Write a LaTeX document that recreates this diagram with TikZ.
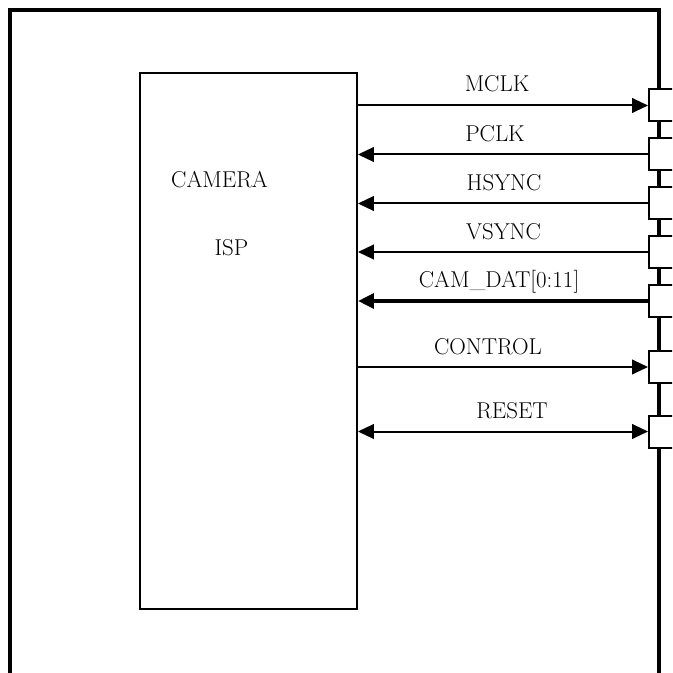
\documentclass[tikz,border=0pt]{standalone}
\usepackage{tikz}
\usetikzlibrary{arrows.meta,positioning}
\newcommand{\sigfont}{\fontsize{17.2}{20}\selectfont}
\tikzset{
  frame/.style={line width=3pt, draw=black, line join=miter},
  chip/.style={draw=black, line width=1.4pt, inner sep=0pt, minimum width=162.75pt, minimum height=402pt},
  pinbox/.style={draw=black, fill=white, line width=1.5pt, inner sep=0pt, minimum width=30pt, minimum height=24pt, anchor=west},
  sig/.style={font=\sigfont, anchor=base, inner sep=0pt},
  wire/.style={line width=1.5pt, -{Triangle[length=12pt,width=11pt]}},
  bus/.style={line width=3pt, -{Triangle[length=12pt,width=11pt]}},
  biwire/.style={line width=1.5pt, {Triangle[length=12pt,width=11pt]}-{Triangle[length=12pt,width=11pt]}}
}
\begin{document}
\begin{tikzpicture}[x=0.75pt, y=-0.75pt]
  \useasboundingbox (0,0) rectangle (672,673);
  \clip (0,0) rectangle (672,673);
  % outer board, open at the bottom
  \draw[frame] (10,690) -- (10,10) -- (659,10) -- (659,690);
  % the ISP block
  \node[chip] (isp) at (248.5,341) {};
  \node[sig] (cam) at (219.5,188) {CAMERA};
  \node[sig] (ispt) at (231.5,255) {ISP};
  % connector pins on the board edge
  \node[pinbox] (mclk) at (648,105.5) {};
  \node[pinbox] (pclk) at (648,154.5) {};
  \node[pinbox] (hsync) at (648,203.5) {};
  \node[pinbox] (vsync) at (648,252) {};
  \node[pinbox] (camdat) at (648,301) {};
  \node[pinbox] (ctrl) at (648,367) {};
  \node[pinbox] (rst) at (648,431.5) {};
  % signal names
  \node[sig] (lmclk) at (497,92) {MCLK};
  \node[sig] (lpclk) at (495,141.5) {PCLK};
  \node[sig] (lhsync) at (504,190.5) {HSYNC};
  \node[sig] (lvsync) at (503.5,239) {VSYNC};
  \node[sig] (lcamdat) at (499,287.5) {CAM\_DAT[0:11]};
  \node[sig] (lctrl) at (488,354) {CONTROL};
  \node[sig] (lrst) at (512,418.5) {RESET};
  % signals
  \draw[wire] (isp.east |- mclk.west) -- (mclk.west);
  \draw[wire] (pclk.west) -- (isp.east |- pclk.west);
  \draw[wire] (hsync.west) -- (isp.east |- hsync.west);
  \draw[wire] (vsync.west) -- (isp.east |- vsync.west);
  \draw[bus] (camdat.west) -- (isp.east |- camdat.west);
  \draw[wire] (isp.east |- ctrl.west) -- (ctrl.west);
  \draw[biwire] (isp.east |- rst.west) -- (rst.west);
\end{tikzpicture}
\end{document}
